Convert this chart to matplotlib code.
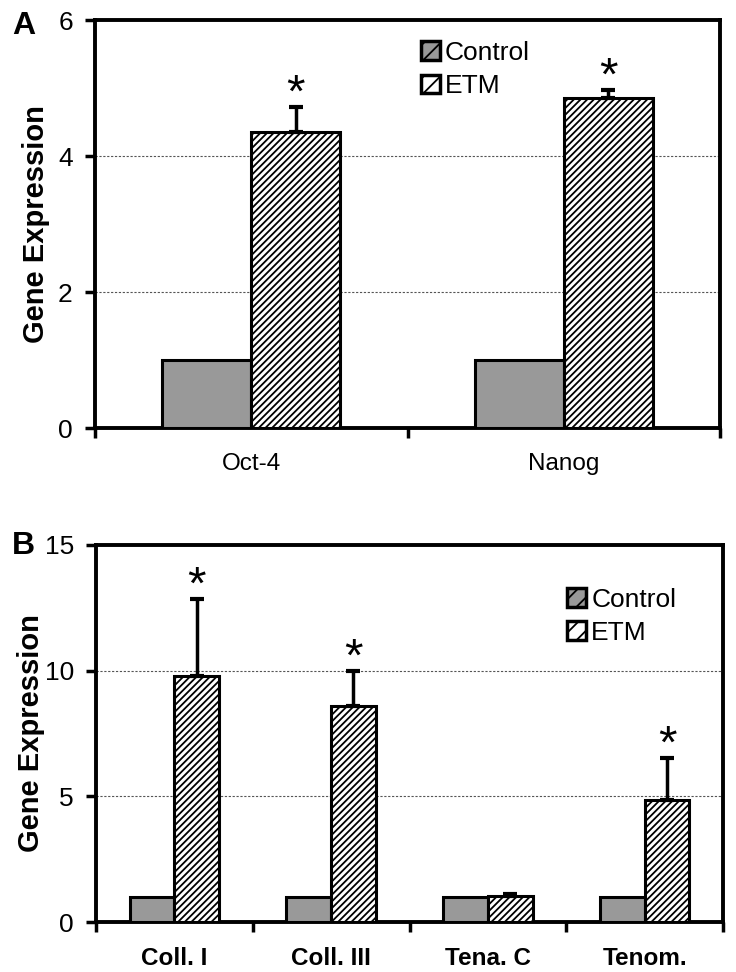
import numpy as np
import matplotlib
matplotlib.use("Agg")
import matplotlib.pyplot as plt

plt.rcParams['font.family'] = ['Liberation Sans', 'DejaVu Sans']
plt.rcParams['hatch.linewidth'] = 1.3

# panel A
genes_a = ["Oct-4", "Nanog"]
control_a = [1.0, 1.0]
etm_a = [4.35, 4.85]
etm_err_a = [0.37, 0.12]

# panel B
genes_b = ["Coll. I", "Coll. III", "Tena. C", "Tenom."]
control_b = [1.0, 1.0, 1.0, 1.0]
etm_b = [9.8, 8.6, 1.05, 4.86]
etm_err_b = [3.07, 1.4, 0.07, 1.67]
signif_b = [True, True, False, True]

fig = plt.figure(figsize=(7.36, 9.72), dpi=100)
ax_a = fig.add_axes([95 / 736, 1 - 428 / 972, 625 / 736, 408 / 972])
ax_b = fig.add_axes([96 / 736, 1 - 922 / 972, 627 / 736, 377 / 972])


def draw_panel(ax, genes, control, etm, err, signif, ymax, ystep, bold_x, legend_pos, ylab_x):
    x = np.arange(len(genes))
    w = 0.285
    ax.bar(x - w / 2, control, w, color="#999999", edgecolor="black", linewidth=2.2,
           label="Control", zorder=3)
    ax.bar(x + w / 2, etm, w, color="white", edgecolor="black", linewidth=2.2,
           hatch="/////", label="ETM", zorder=3)
    ax.errorbar(x + w / 2, etm, yerr=[np.zeros(len(err)), err], fmt="none",
                ecolor="black", elinewidth=2.5, capsize=5, capthick=3, zorder=4)
    for xi, v, e, s in zip(x, etm, err, signif):
        if s:
            ax.annotate("*", (xi + w / 2, v + e), xytext=(0, -7), textcoords="offset points",
                        ha="center", va="bottom", fontsize=34, zorder=5)
    ax.set_xlim(-0.5, len(genes) - 0.5)
    ax.set_ylim(0, ymax)
    ax.set_yticks(np.arange(0, ymax + 0.1, ystep))
    ax.set_xticks(np.arange(-0.5, len(genes), 1.0))
    ax.set_xticklabels([])
    ax.set_xticks(x, minor=True)
    ax.set_xticklabels(genes, minor=True, fontsize=17.5,
                       fontweight="bold" if bold_x else "normal")
    ax.tick_params(axis="x", which="minor", length=0, pad=18)
    ax.tick_params(axis="x", which="major", direction="out", length=7, width=2.5)
    ax.tick_params(axis="y", direction="out", length=7, width=2.5, labelsize=19, pad=9)
    for sp in ax.spines.values():
        sp.set_linewidth(2.8)
    ax.grid(axis="y", linestyle=(0, (2, 1.5)), color="#555555", linewidth=0.8, zorder=0)
    ax.set_ylabel("Gene Expression", fontsize=21, fontweight="bold")
    ax.yaxis.set_label_coords(ylab_x, 0.5)
    leg = ax.legend(loc="upper left", bbox_to_anchor=legend_pos, frameon=False,
                    fontsize=19, handlelength=0.7, handleheight=0.7,
                    handletextpad=0.2, labelspacing=0.35, borderaxespad=0)
    for h in leg.legend_handles:
        h.set_linewidth(2.5)
        h.set_hatch("//")


draw_panel(ax_a, genes_a, control_a, etm_a, etm_err_a, [True, True], 6, 2, False,
           (0.505, 0.975), -0.072)
draw_panel(ax_b, genes_b, control_b, etm_b, etm_err_b, signif_b, 15, 5, True,
           (0.735, 0.915), -0.081)

fig.text(12 / 736, 1 - 26 / 972, "A", fontsize=23, fontweight="bold", va="center")
fig.text(12 / 736, 1 - 546 / 972, "B", fontsize=23, fontweight="bold", va="center")

fig.savefig("out.png", dpi=100)
